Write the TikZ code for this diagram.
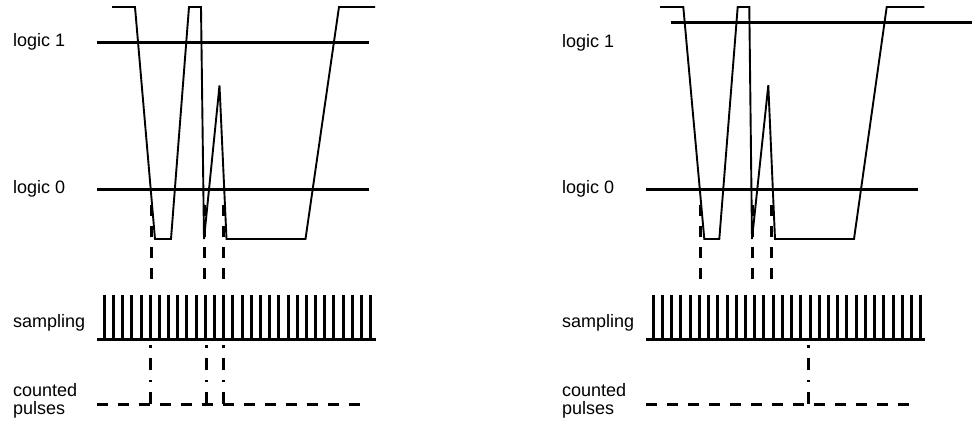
\documentclass[tikz,border=0pt]{standalone}
\usepackage{fontspec}
\setmainfont{Liberation Sans}
\begin{document}
\begin{tikzpicture}[x=1pt,y=-1pt,
  wave/.style={line width=1.9pt,line join=miter},
  level/.style={line width=2.8pt},
  tick/.style={line width=3pt},
  base/.style={line width=3pt},
  edgemark/.style={line width=3pt,dash pattern=on 11pt off 10pt},
  countline/.style={line width=3pt,dash pattern=on 11pt off 10pt},
  countmark/.style={line width=3pt,dash pattern=on 12pt off 10pt on 2.5pt off 10pt},
  lbl/.style={anchor=west,inner sep=0pt,font=\fontsize{18}{18.5}\selectfont,align=left}]
\useasboundingbox (0,0) rectangle (972,423);

% ---------------- left diagram ----------------
\node[lbl] (l1L) at (13,42) {logic 1};
\node[lbl] (l0L) at (13,189) {logic 0};
\node[lbl] (smL) at (13,323) {sampling};
\node[lbl] (cpL) at (13,401) {counted\\pulses};

\draw[level] (96.7,42.3) -- (369,42.3);
\draw[level] (96.7,189.3) -- (369,189.3);

\draw[wave] (112,7) -- (135,7) -- (155,239) -- (171,239) -- (189,7) -- (201,7)
  -- (204,239) -- (219.5,85.5) -- (226.5,239) -- (305.5,239) -- (339,7) -- (375,7);

\foreach \x in {151.7,204,223.3}
  \draw[edgemark] (\x,279) -- (\x,200);

\draw[base] (96.7,339) -- (375.7,339);
\foreach \i in {0,...,29}
  \draw[tick] ({104.3+\i*9.186},295) -- ({104.3+\i*9.186},339);

\draw[countline] (96.7,404) -- (363,404);
\foreach \x in {150,206.7,223.3}
  \draw[countmark] (\x,404) -- (\x,345);

% ---------------- right diagram ----------------
\node[lbl] (l1R) at (562,43) {logic 1};
\node[lbl] (l0R) at (562,189) {logic 0};
\node[lbl] (smR) at (562,323) {sampling};
\node[lbl] (cpR) at (562,401) {counted\\pulses};

\draw[level] (671,22.3) -- (972,22.3);
\draw[level] (646,189.3) -- (917.7,189.3);

\draw[wave] (660,7) -- (683.3,7) -- (704.3,239) -- (719.3,239) -- (737.7,7) -- (749.3,7)
  -- (752,239) -- (768.3,85.3) -- (775,239) -- (854,239) -- (886.7,7) -- (924.3,7);

\foreach \x in {700.3,752.3,771}
  \draw[edgemark] (\x,279) -- (\x,200);

\draw[base] (646,339) -- (925,339);
\foreach \i in {0,...,29}
  \draw[tick] ({653.3+\i*9.22},295) -- ({653.3+\i*9.22},339);

\draw[countline] (646,404) -- (911.7,404);
\draw[countmark] (808.3,404) -- (808.3,345);
\end{tikzpicture}
\end{document}
